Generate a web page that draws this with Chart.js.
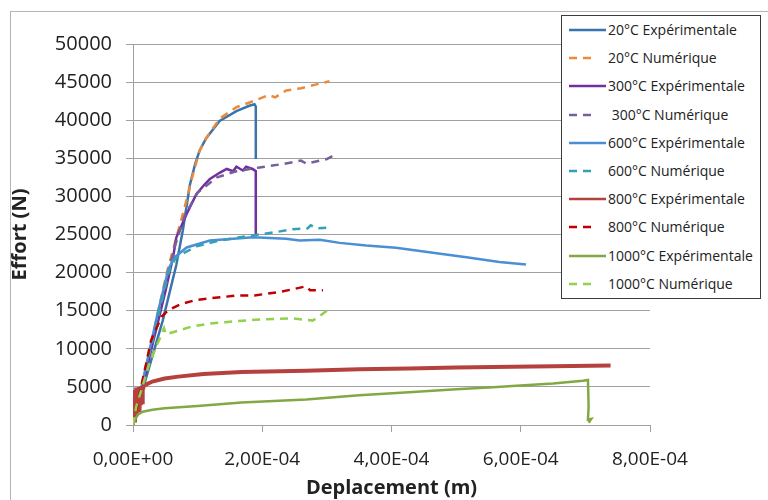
<!DOCTYPE html>
<html>
<head>
<meta charset="utf-8">
<script src="https://cdn.jsdelivr.net/npm/chart.js@4"></script>
<style>
  html, body { margin: 0; padding: 0; background: #fff; }
  #wrap { position: relative; width: 768px; height: 500px; overflow: hidden; }
  #frame { position: absolute; left: 10px; top: 11px; width: 900px; height: 700px; border: 1px solid #b4b4b4; }
  #chart { position: absolute; left: 0; top: 0; }
  #legend {
    position: absolute; left: 561px; top: 15px; width: 200px; height: 284px;
    border: 1px solid #3c3c3c; background: #fff; box-sizing: border-box;
    font-family: "Open Sans", sans-serif; font-size: 14px; color: #222;
  }
  .row { position: relative; height: 28.2px; }
  .row svg { position: absolute; left: 0; top: 0; }
  .row span { position: absolute; left: 46px; top: 4px; white-space: pre; }
</style>
</head>
<body>
<div id="wrap">
  <div id="frame"></div>
  <canvas id="chart" width="768" height="500"></canvas>
  <div id="legend"></div>
</div>
<script>
const seriesNames = ['20°C Expérimentale', '20°C Numérique', '300°C Expérimentale', ' 300°C Numérique',
    '600°C Expérimentale', '600°C Numérique', '800°C Expérimentale', '800°C Numérique',
    '1000°C Expérimentale', '1000°C Numérique'];
const seriesColors = ['#3b74ad', '#eb8a3c', '#7030a0', '#75609a', '#4a8fd4',
    '#35a0b5', '#b5413e', '#c00000', '#82a844', '#92d050'];

// displacement (m) / force (N)
const x20Exp = [0, 0.10e-4, 0.46e-4, 0.67e-4, 0.77e-4, 0.88e-4, 0.96e-4, 1.03e-4, 1.13e-4, 1.34e-4, 1.60e-4, 1.80e-4, 1.88e-4, 1.90e-4, 1.90e-4];
const y20Exp = [0, 3200, 13700, 21000, 25500, 31500, 34200, 36000, 37600, 39900, 41200, 41900, 42100, 41800, 34900];
const x20Num = [0, 0.25e-4, 0.52e-4, 0.80e-4, 0.90e-4, 1.03e-4, 1.13e-4, 1.34e-4, 1.60e-4, 1.86e-4, 2.10e-4, 2.20e-4, 2.37e-4, 2.60e-4, 2.84e-4, 3.04e-4];
const y20Num = [0, 9500, 19900, 28600, 32000, 36000, 37600, 40200, 41700, 42500, 43300, 43000, 43900, 44200, 44700, 45100];
const x300Exp = [0, 0.30e-4, 0.50e-4, 0.62e-4, 0.67e-4, 0.83e-4, 0.98e-4, 1.10e-4, 1.19e-4, 1.34e-4, 1.45e-4, 1.55e-4, 1.60e-4, 1.70e-4, 1.75e-4, 1.85e-4, 1.90e-4, 1.90e-4];
const y300Exp = [0, 10500, 17500, 22000, 24600, 27700, 30300, 31500, 32300, 33100, 33600, 33300, 33900, 33400, 33900, 33600, 33300, 25000];
const x300Num = [0, 0.50e-4, 0.65e-4, 0.80e-4, 1.00e-4, 1.30e-4, 1.60e-4, 1.96e-4, 2.32e-4, 2.60e-4, 2.68e-4, 3.00e-4, 3.09e-4];
const y300Num = [0, 18500, 23500, 27500, 30500, 32500, 33300, 33800, 34250, 34700, 34300, 34900, 35300];
const x600Exp = [0, 0.39e-4, 0.55e-4, 0.645e-4, 0.83e-4, 1.19e-4, 1.86e-4, 2.37e-4, 2.58e-4, 2.89e-4, 3.20e-4, 3.61e-4, 4.07e-4, 4.64e-4, 5.16e-4, 5.67e-4, 6.08e-4];
const y600Exp = [0, 15000, 20500, 22000, 23300, 24200, 24650, 24450, 24200, 24300, 23900, 23550, 23250, 22600, 22000, 21400, 21070];
const x600Num = [0, 0.30e-4, 0.55e-4, 0.65e-4, 0.77e-4, 1.00e-4, 1.34e-4, 1.86e-4, 2.20e-4, 2.47e-4, 2.70e-4, 2.75e-4, 2.85e-4, 2.99e-4];
const y600Num = [0, 11000, 20000, 21800, 22500, 23500, 24200, 24900, 25300, 25700, 25800, 26200, 25800, 25900];
const x800Exp = [0, 0.01e-4, 0.02e-4, 0.03e-4, 0.04e-4, 0.05e-4, 0.06e-4, 0.07e-4, 0.08e-4, 0.09e-4, 0.10e-4, 0.11e-4, 0.12e-4, 0.13e-4, 0.14e-4, 0.15e-4, 0.17e-4, 0.20e-4, 0.30e-4, 0.49e-4, 0.70e-4, 1.09e-4, 1.68e-4, 2.68e-4, 3.50e-4, 4.27e-4, 5.00e-4, 5.87e-4, 6.50e-4, 7.39e-4];
const y800Exp = [1000, 4200, 600, 4600, 1800, 4900, 1200, 4500, 2400, 5000, 1700, 4700, 2600, 5100, 3000, 4600, 5200, 5300, 5700, 6100, 6350, 6680, 6950, 7120, 7300, 7420, 7530, 7640, 7720, 7820];
const x800Num = [0, 0.28e-4, 0.44e-4, 0.55e-4, 0.75e-4, 0.97e-4, 1.16e-4, 1.62e-4, 1.88e-4, 2.30e-4, 2.68e-4, 2.74e-4, 2.94e-4];
const y800Num = [0, 11100, 14200, 15100, 15900, 16400, 16600, 17000, 17000, 17500, 18200, 17700, 17700];
const x1000Exp = [0, 0.03e-4, 0.08e-4, 0.15e-4, 0.30e-4, 0.49e-4, 1.00e-4, 1.68e-4, 2.68e-4, 3.50e-4, 4.27e-4, 5.00e-4, 5.57e-4, 5.93e-4, 6.50e-4, 6.96e-4, 7.04e-4, 7.05e-4, 7.04e-4, 7.09e-4, 7.05e-4];
const y1000Exp = [0, 700, 1400, 1750, 2000, 2200, 2500, 2950, 3350, 3900, 4300, 4700, 4950, 5150, 5450, 5800, 5900, 2500, 700, 800, 300];
const x1000Num = [0, 0.05e-4, 0.25e-4, 0.48e-4, 0.51e-4, 0.90e-4, 1.19e-4, 1.42e-4, 1.88e-4, 2.46e-4, 2.78e-4, 2.89e-4, 3.00e-4];
const y1000Num = [0, 2400, 8000, 12700, 11900, 12900, 13300, 13500, 13800, 14000, 13700, 14300, 15000];

const xTicks = [0, 2e-4, 4e-4, 6e-4, 8e-4];
const yMax = 50000, yStep = 5000;

const seriesX = [x20Exp, x20Num, x300Exp, x300Num, x600Exp, x600Num, x800Exp, x800Num, x1000Exp, x1000Num];
const seriesY = [y20Exp, y20Num, y300Exp, y300Num, y600Exp, y600Num, y800Exp, y800Num, y1000Exp, y1000Num];

function sciLabel(v) {
    const [m, e] = Number(v).toExponential(2).split('e');
    const n = parseInt(e, 10);
    return m.replace('.', ',') + 'E' + (n < 0 ? '-' : '+') + String(Math.abs(n)).padStart(2, '0');
}

const datasets = seriesNames.map((name, i) => {
    const dashed = i % 2 === 1;
    return {
        label: name,
        data: seriesX[i].map((x, k) => ({ x: x, y: seriesY[i][k] })),
        showLine: true,
        borderColor: seriesColors[i],
        backgroundColor: seriesColors[i],
        borderWidth: i === 6 ? 4 : 2.5,
        borderDash: dashed ? [8, 6] : [],
        pointRadius: 0,
        tension: 0,
        order: 10 - i
    };
});

new Chart(document.getElementById('chart'), {
    type: 'scatter',
    data: { datasets: datasets },
    options: {
        responsive: false,
        animation: false,
        layout: { padding: { top: 44, right: 118, bottom: 0, left: 0 } },
        plugins: { legend: { display: false }, tooltip: { enabled: false } },
        scales: {
            x: {
                type: 'linear',
                min: 0,
                max: 8e-4,
                afterBuildTicks: s => { s.ticks = xTicks.map(v => ({ value: v })); },
                afterFit: s => { s.height = 75; },
                ticks: {
                    callback: v => sciLabel(v),
                    font: { family: 'Open Sans', size: 19 },
                    color: '#222',
                    padding: 16,
                    maxRotation: 0,
                    autoSkip: false
                },
                grid: { drawOnChartArea: false, color: '#a0a0a0', tickLength: 7 },
                border: { color: '#a0a0a0' },
                title: {
                    display: true,
                    text: 'Deplacement (m)',
                    font: { family: 'Open Sans', size: 20, weight: 'bold' },
                    color: '#222',
                    padding: { top: 0, bottom: 0 }
                }
            },
            y: {
                min: 0,
                max: yMax,
                afterFit: s => { s.width = 133; },
                ticks: {
                    stepSize: yStep,
                    callback: v => String(v),
                    font: { family: 'Open Sans', size: 20 },
                    color: '#222',
                    padding: 14
                },
                grid: { color: '#a0a0a0', tickLength: 7 },
                border: { color: '#a0a0a0' },
                title: {
                    display: true,
                    text: 'Effort (N)',
                    font: { family: 'Open Sans', size: 20, weight: 'bold' },
                    color: '#222',
                    padding: { top: 8, bottom: 0 }
                }
            }
        }
    }
});

const legend = document.getElementById('legend');
seriesNames.forEach((name, i) => {
    const row = document.createElement('div');
    row.className = 'row';
    const c = seriesColors[i];
    const line = i % 2 === 1
        ? `<line x1="7" y1="14" x2="15" y2="14" stroke="${c}" stroke-width="2.5"/><line x1="21" y1="14" x2="29" y2="14" stroke="${c}" stroke-width="2.5"/>`
        : `<line x1="7" y1="14" x2="44" y2="14" stroke="${c}" stroke-width="2.5"/>`;
    row.innerHTML = `<svg width="46" height="28">${line}</svg><span>${name}</span>`;
    legend.appendChild(row);
});
</script>
</body>
</html>
